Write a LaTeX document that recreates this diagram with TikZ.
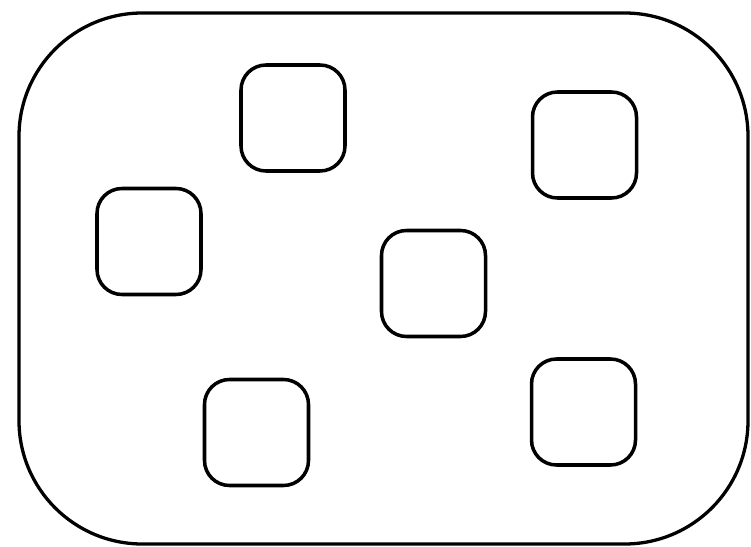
\documentclass[tikz,border=0pt]{standalone}
\usepackage{tikz}
\usetikzlibrary{positioning}

\begin{document}
\begin{tikzpicture}[
  x=0.3mm, y=-0.3mm,
  cell/.style={rectangle, rounded corners=7.5mm, draw=black, line width=3pt,
               minimum width=31.2mm, minimum height=31.8mm, inner sep=0pt},
  tray/.style={draw=black, line width=2.8pt, rounded corners=37mm}
]
  \useasboundingbox (0,0) rectangle (751,547);
  % outer frame
  \draw[tray] (19,13) rectangle (748,544);
  % small boxes
  \node[cell] (c1) at (293,118) {};
  \node[cell] (c2) at (584.5,145) {};
  \node[cell] (c3) at (149,241.5) {};
  \node[cell] (c4) at (433.5,283.5) {};
  \node[cell] (c5) at (256.5,432.5) {};
  \node[cell] (c6) at (583.5,412) {};
\end{tikzpicture}
\end{document}
